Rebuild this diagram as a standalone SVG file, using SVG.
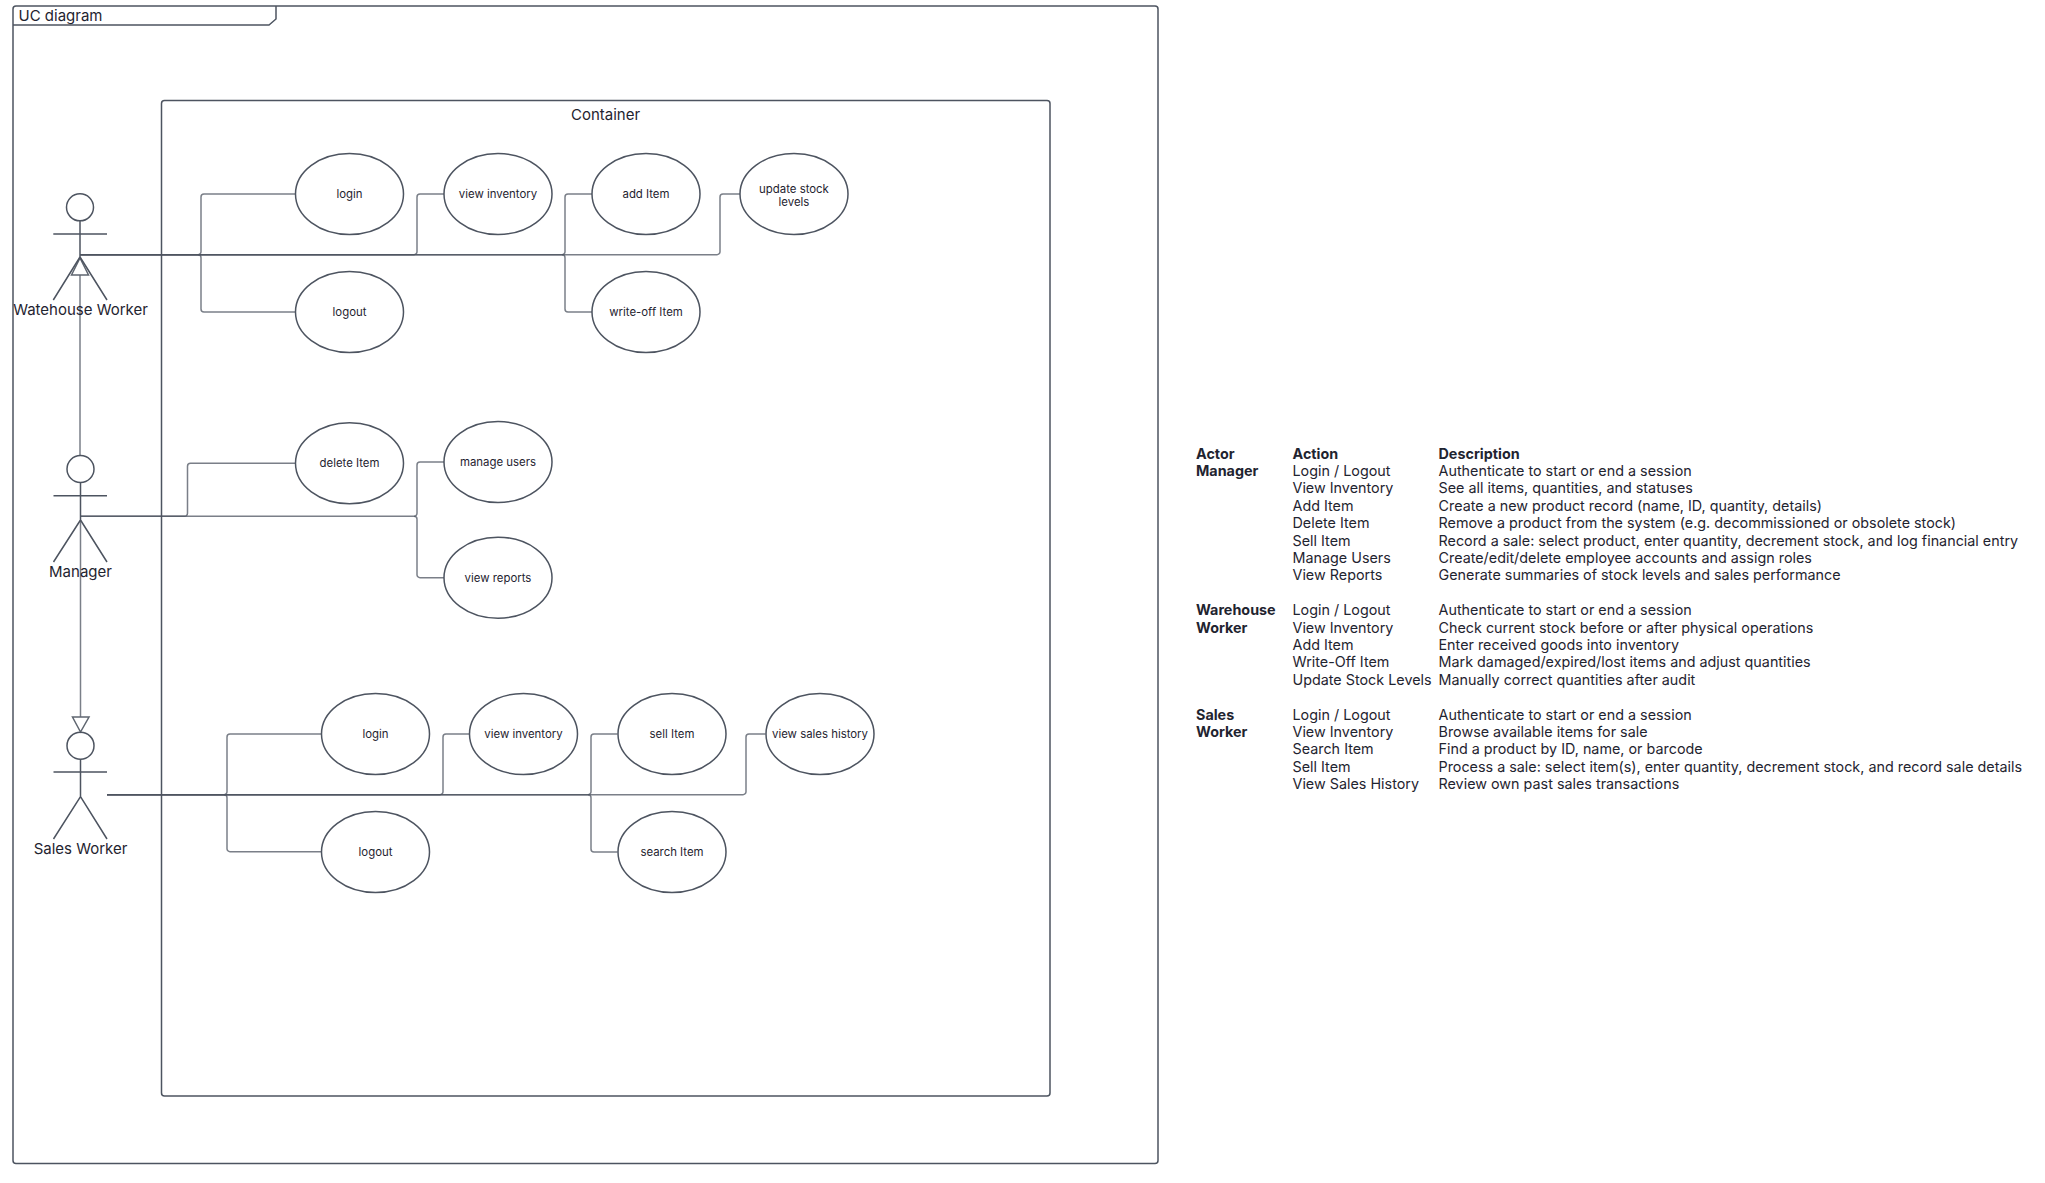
<svg xmlns="http://www.w3.org/2000/svg" width="2045" height="1183" viewBox="0 0 2045 1183">
<style>
text{font-family:Inter,"Liberation Sans",sans-serif;fill:#1f2430}
.s{fill:none;stroke:#4d5460;stroke-width:1.5}
.c{fill:none;stroke:#4d5460;stroke-opacity:.75;stroke-width:1.5}
.u{fill:#fff;stroke:#4d5460;stroke-width:1.5}
.l{font-size:11.4px;text-anchor:middle}
.a{font-size:15px;text-anchor:middle}
.t{font-size:14.35px}
.b{font-size:14.35px;font-weight:700}
.h{fill:#fff;stroke:#5f6670;stroke-width:1.5}
</style>
<rect width="2045" height="1183" fill="#fff"/>
<g id="frame">
<rect class="s" x="13" y="6" width="1145" height="1157.500" rx="3"/>
<path class="s" d="M13 25H269L276 19V6"/>
<text x="18.500" y="21" font-size="15">UC diagram</text>
</g>
<g id="container">
<rect class="s" x="161.500" y="100.500" width="888.500" height="995.500" rx="3"/>
<text x="605.500" y="120" font-size="15" text-anchor="middle">Container</text>
</g>
<g id="connectors">
<path class="c" d="M80 254.700H717a3 3 0 0 0 3-3V197a3 3 0 0 1 3-3H740.500"/>
<path class="c" d="M80 254.700H198a3 3 0 0 0 3-3V197a3 3 0 0 1 3-3H295.500"/>
<path class="c" d="M198 254.700a3 3 0 0 1 3 3V309a3 3 0 0 0 3 3H295.500"/>
<path class="c" d="M80 254.700H414a3 3 0 0 0 3-3V197a3 3 0 0 1 3-3H444"/>
<path class="c" d="M80 254.700H562a3 3 0 0 0 3-3V197a3 3 0 0 1 3-3H592"/>
<path class="c" d="M562 254.700a3 3 0 0 1 3 3V309a3 3 0 0 0 3 3H592"/>
<path class="c" d="M80 516.300H184.500a3 3 0 0 0 3-3V466.300a3 3 0 0 1 3-3H295.500"/>
<path class="c" d="M80 516.300H414a3 3 0 0 0 3-3V465a3 3 0 0 1 3-3H444"/>
<path class="c" d="M414 516.300a3 3 0 0 1 3 3V574.700a3 3 0 0 0 3 3H444"/>
<path class="c" d="M107 794.700H224a3 3 0 0 0 3-3V737a3 3 0 0 1 3-3H321.500"/>
<path class="c" d="M224 794.700a3 3 0 0 1 3 3V848.700a3 3 0 0 0 3 3H321.500"/>
<path class="c" d="M107 794.700H440a3 3 0 0 0 3-3V737a3 3 0 0 1 3-3H469.500"/>
<path class="c" d="M107 794.700H588a3 3 0 0 0 3-3V737a3 3 0 0 1 3-3H617.500"/>
<path class="c" d="M588 794.700a3 3 0 0 1 3 3V849a3 3 0 0 0 3 3H617.500"/>
<path class="c" d="M107 794.700H743a3 3 0 0 0 3-3V737a3 3 0 0 1 3-3H765.500"/>
<path class="c" d="M80 275V455"/>
<path class="h" d="M80 258L88.500 275H71.500Z"/>
<path class="c" d="M80.500 520V717"/>
<path class="h" d="M80.500 732L72.500 717H89Z"/>
</g>
<g id="actor-warehouse">
<circle class="s" cx="80" cy="207.300" r="13.500"/>
<path class="s" d="M53.300 234H107M80 220.800V257M80 257L53.300 300M80 257L107 300"/>
<text class="a" x="80.500" y="315">Watehouse Worker</text>
</g>
<g id="actor-manager">
<circle class="s" cx="80.500" cy="469" r="13.500"/>
<path class="s" d="M53.500 495.700H107M80.500 482.500V520M80.500 520L53.500 562M80.500 520L107 562"/>
<text class="a" x="80.500" y="576.700">Manager</text>
</g>
<g id="actor-sales">
<circle class="s" cx="80.500" cy="745.700" r="13.500"/>
<path class="s" d="M53.500 772H107M80.500 759.200V796.700M80.500 796.700L53.500 839M80.500 796.700L107 839"/>
<text class="a" x="80.500" y="853.500">Sales Worker</text>
</g>
<g id="uc-login-w"><ellipse class="u" cx="349.500" cy="194" rx="54" ry="40.500"/><text class="l" x="349.500" y="198">login</text></g>
<g id="uc-logout-w"><ellipse class="u" cx="349.500" cy="312" rx="54" ry="40.500"/><text class="l" x="349.500" y="316">logout</text></g>
<g id="uc-view-w"><ellipse class="u" cx="498" cy="194" rx="54" ry="40.500"/><text class="l" x="498" y="198">view inventory</text></g>
<g id="uc-add"><ellipse class="u" cx="646" cy="194" rx="54" ry="40.500"/><text class="l" x="646" y="198">add Item</text></g>
<g id="uc-update"><ellipse class="u" cx="794" cy="194" rx="54" ry="40.500"/><text class="l" x="794" y="192.500">update stock</text><text class="l" x="794" y="206">levels</text></g>
<g id="uc-writeoff"><ellipse class="u" cx="646" cy="312" rx="54" ry="40.500"/><text class="l" x="646" y="316">write-off Item</text></g>
<g id="uc-delete"><ellipse class="u" cx="349.500" cy="463.300" rx="54" ry="40.500"/><text class="l" x="349.500" y="467">delete Item</text></g>
<g id="uc-manage"><ellipse class="u" cx="498" cy="462" rx="54" ry="40.500"/><text class="l" x="498" y="466">manage users</text></g>
<g id="uc-reports"><ellipse class="u" cx="498" cy="577.700" rx="54" ry="40.500"/><text class="l" x="498" y="581.500">view reports</text></g>
<g id="uc-login-s"><ellipse class="u" cx="375.500" cy="734" rx="54" ry="40.500"/><text class="l" x="375.500" y="738">login</text></g>
<g id="uc-logout-s"><ellipse class="u" cx="375.500" cy="852" rx="54" ry="40.500"/><text class="l" x="375.500" y="856">logout</text></g>
<g id="uc-view-s"><ellipse class="u" cx="523.500" cy="734" rx="54" ry="40.500"/><text class="l" x="523.500" y="738">view inventory</text></g>
<g id="uc-sell"><ellipse class="u" cx="672" cy="734" rx="54" ry="40.500"/><text class="l" x="672" y="738">sell Item</text></g>
<g id="uc-search"><ellipse class="u" cx="672" cy="852" rx="54" ry="40.500"/><text class="l" x="672" y="856">search Item</text></g>
<g id="uc-history"><ellipse class="u" cx="820" cy="734" rx="54" ry="40.500"/><text class="l" x="820" y="738">view sales history</text></g>
<g id="table">
<text class="b" x="1196" y="458.500">Actor</text><text class="b" x="1292.500" y="458.500">Action</text><text class="b" x="1438.500" y="458.500">Description</text>
<text class="b" x="1196" y="475.900">Manager</text><text class="t" x="1292.500" y="475.900">Login / Logout</text><text class="t" x="1438.500" y="475.900">Authenticate to start or end a session</text>
<text class="t" x="1292.500" y="493.300">View Inventory</text><text class="t" x="1438.500" y="493.300">See all items, quantities, and statuses</text>
<text class="t" x="1292.500" y="510.700">Add Item</text><text class="t" x="1438.500" y="510.700">Create a new product record (name, ID, quantity, details)</text>
<text class="t" x="1292.500" y="528.100">Delete Item</text><text class="t" x="1438.500" y="528.100">Remove a product from the system (e.g. decommissioned or obsolete stock)</text>
<text class="t" x="1292.500" y="545.500">Sell Item</text><text class="t" x="1438.500" y="545.500">Record a sale: select product, enter quantity, decrement stock, and log financial entry</text>
<text class="t" x="1292.500" y="562.900">Manage Users</text><text class="t" x="1438.500" y="562.900">Create/edit/delete employee accounts and assign roles</text>
<text class="t" x="1292.500" y="580.300">View Reports</text><text class="t" x="1438.500" y="580.300">Generate summaries of stock levels and sales performance</text>
<text class="b" x="1196" y="615.100">Warehouse</text><text class="t" x="1292.500" y="615.100">Login / Logout</text><text class="t" x="1438.500" y="615.100">Authenticate to start or end a session</text>
<text class="b" x="1196" y="632.500">Worker</text><text class="t" x="1292.500" y="632.500">View Inventory</text><text class="t" x="1438.500" y="632.500">Check current stock before or after physical operations</text>
<text class="t" x="1292.500" y="649.900">Add Item</text><text class="t" x="1438.500" y="649.900">Enter received goods into inventory</text>
<text class="t" x="1292.500" y="667.300">Write-Off Item</text><text class="t" x="1438.500" y="667.300">Mark damaged/expired/lost items and adjust quantities</text>
<text class="t" x="1292.500" y="684.700">Update Stock Levels</text><text class="t" x="1438.500" y="684.700">Manually correct quantities after audit</text>
<text class="b" x="1196" y="719.500">Sales</text><text class="t" x="1292.500" y="719.500">Login / Logout</text><text class="t" x="1438.500" y="719.500">Authenticate to start or end a session</text>
<text class="b" x="1196" y="736.900">Worker</text><text class="t" x="1292.500" y="736.900">View Inventory</text><text class="t" x="1438.500" y="736.900">Browse available items for sale</text>
<text class="t" x="1292.500" y="754.300">Search Item</text><text class="t" x="1438.500" y="754.300">Find a product by ID, name, or barcode</text>
<text class="t" x="1292.500" y="771.700">Sell Item</text><text class="t" x="1438.500" y="771.700">Process a sale: select item(s), enter quantity, decrement stock, and record sale details</text>
<text class="t" x="1292.500" y="789.100">View Sales History</text><text class="t" x="1438.500" y="789.100">Review own past sales transactions</text>
</g>
</svg>
